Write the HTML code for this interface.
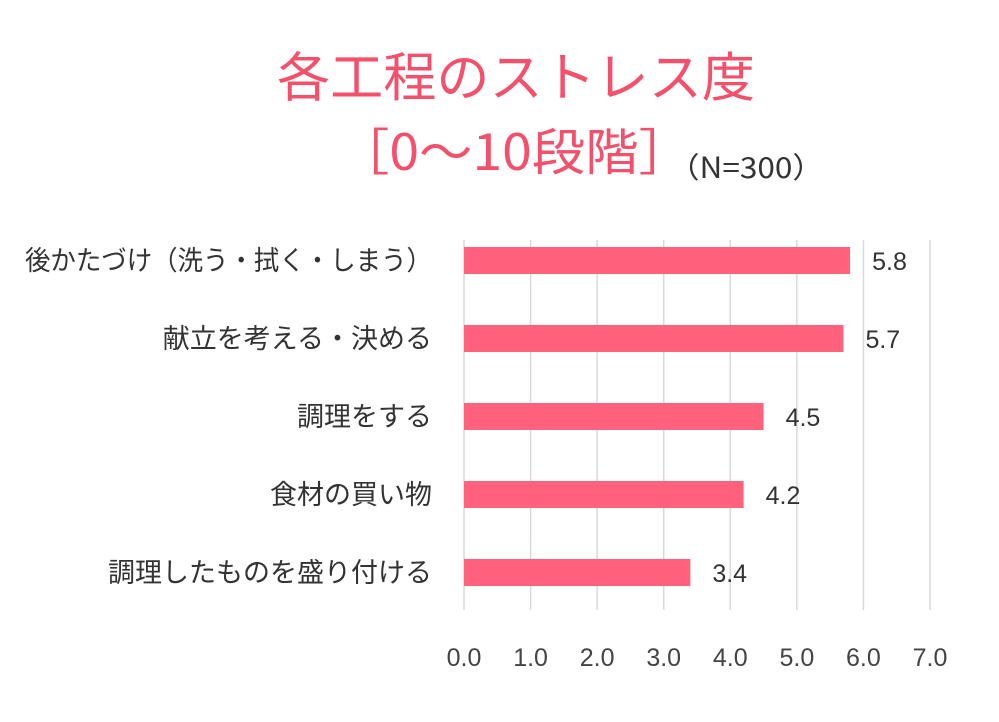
<!DOCTYPE html>
<html><head><meta charset="utf-8"><style>
body{margin:0;background:#fff;width:999px;height:717px;overflow:hidden;font-family:"Liberation Sans","Noto Sans CJK JP",sans-serif}
</style></head><body>
<svg width="999" height="717" viewBox="0 0 999 717" id="chart">
<text x="277" y="96" textLength="478" lengthAdjust="spacingAndGlyphs" font-size="53" fill="#f4506c" font-family="Noto Sans CJK JP, sans-serif">各工程のストレス度</text>
<text x="336" y="170" textLength="356" lengthAdjust="spacingAndGlyphs" font-size="50" fill="#f4506c" font-family="Noto Sans CJK JP, sans-serif">［0～10段階］</text>
<text x="668" y="178" textLength="156" lengthAdjust="spacingAndGlyphs" font-size="29" fill="#333" font-family="Noto Sans CJK JP, sans-serif">（N=300）</text>
<g id="grid"></g><g id="bars"></g><g id="labels"></g>
</svg>
<script>
const categories=["後かたづけ（洗う・拭く・しまう）","献立を考える・決める","調理をする","食材の買い物","調理したものを盛り付ける"];
const values=[5.8,5.7,4.5,4.2,3.4];
const ticks=[0,1,2,3,4,5,6,7];
const ns="http://www.w3.org/2000/svg";
const x0=464,x7=930,yTop=240,yBot=610;
const xs=v=>x0+(x7-x0)*v/7;
const ys=i=>260+i*78;
const grid=document.getElementById('grid'),bars=document.getElementById('bars'),labels=document.getElementById('labels');
function mk(tag,attrs,parent){const e=document.createElementNS(ns,tag);for(const k in attrs)e.setAttribute(k,attrs[k]);parent.appendChild(e);return e;}
ticks.forEach(t=>{
 const l=mk('line',{x1:xs(t),x2:xs(t),y1:yTop,y2:yBot,stroke:'#d9d9d9','stroke-width':1.5},grid);
 
 
 const tx=mk('text',{x:xs(t),y:666,'text-anchor':'middle','font-size':25,fill:'#444'},labels);
 tx.textContent=t.toFixed(1);
 
 
});
categories.forEach((c,i)=>{
 const y=ys(i);
 const r=mk('rect',{x:x0,y:y-13,width:xs(values[i])-x0,height:27,fill:'#ff627d'},bars);
 
 
 const v=mk('text',{x:xs(values[i])+22,y:y+10,'font-size':25,fill:'#333'},labels);
 v.textContent=values[i].toFixed(1);
 
 
 const attrs={x:432,y:y+10,'text-anchor':'end','font-size':27,fill:'#333','font-family':'Noto Sans CJK JP, sans-serif'};
 if(c.length>14){attrs.textLength=407;attrs.lengthAdjust='spacingAndGlyphs';}
 const lb=mk('text',attrs,labels);
 lb.textContent=c;
 
 
});
</script>
</body></html>
